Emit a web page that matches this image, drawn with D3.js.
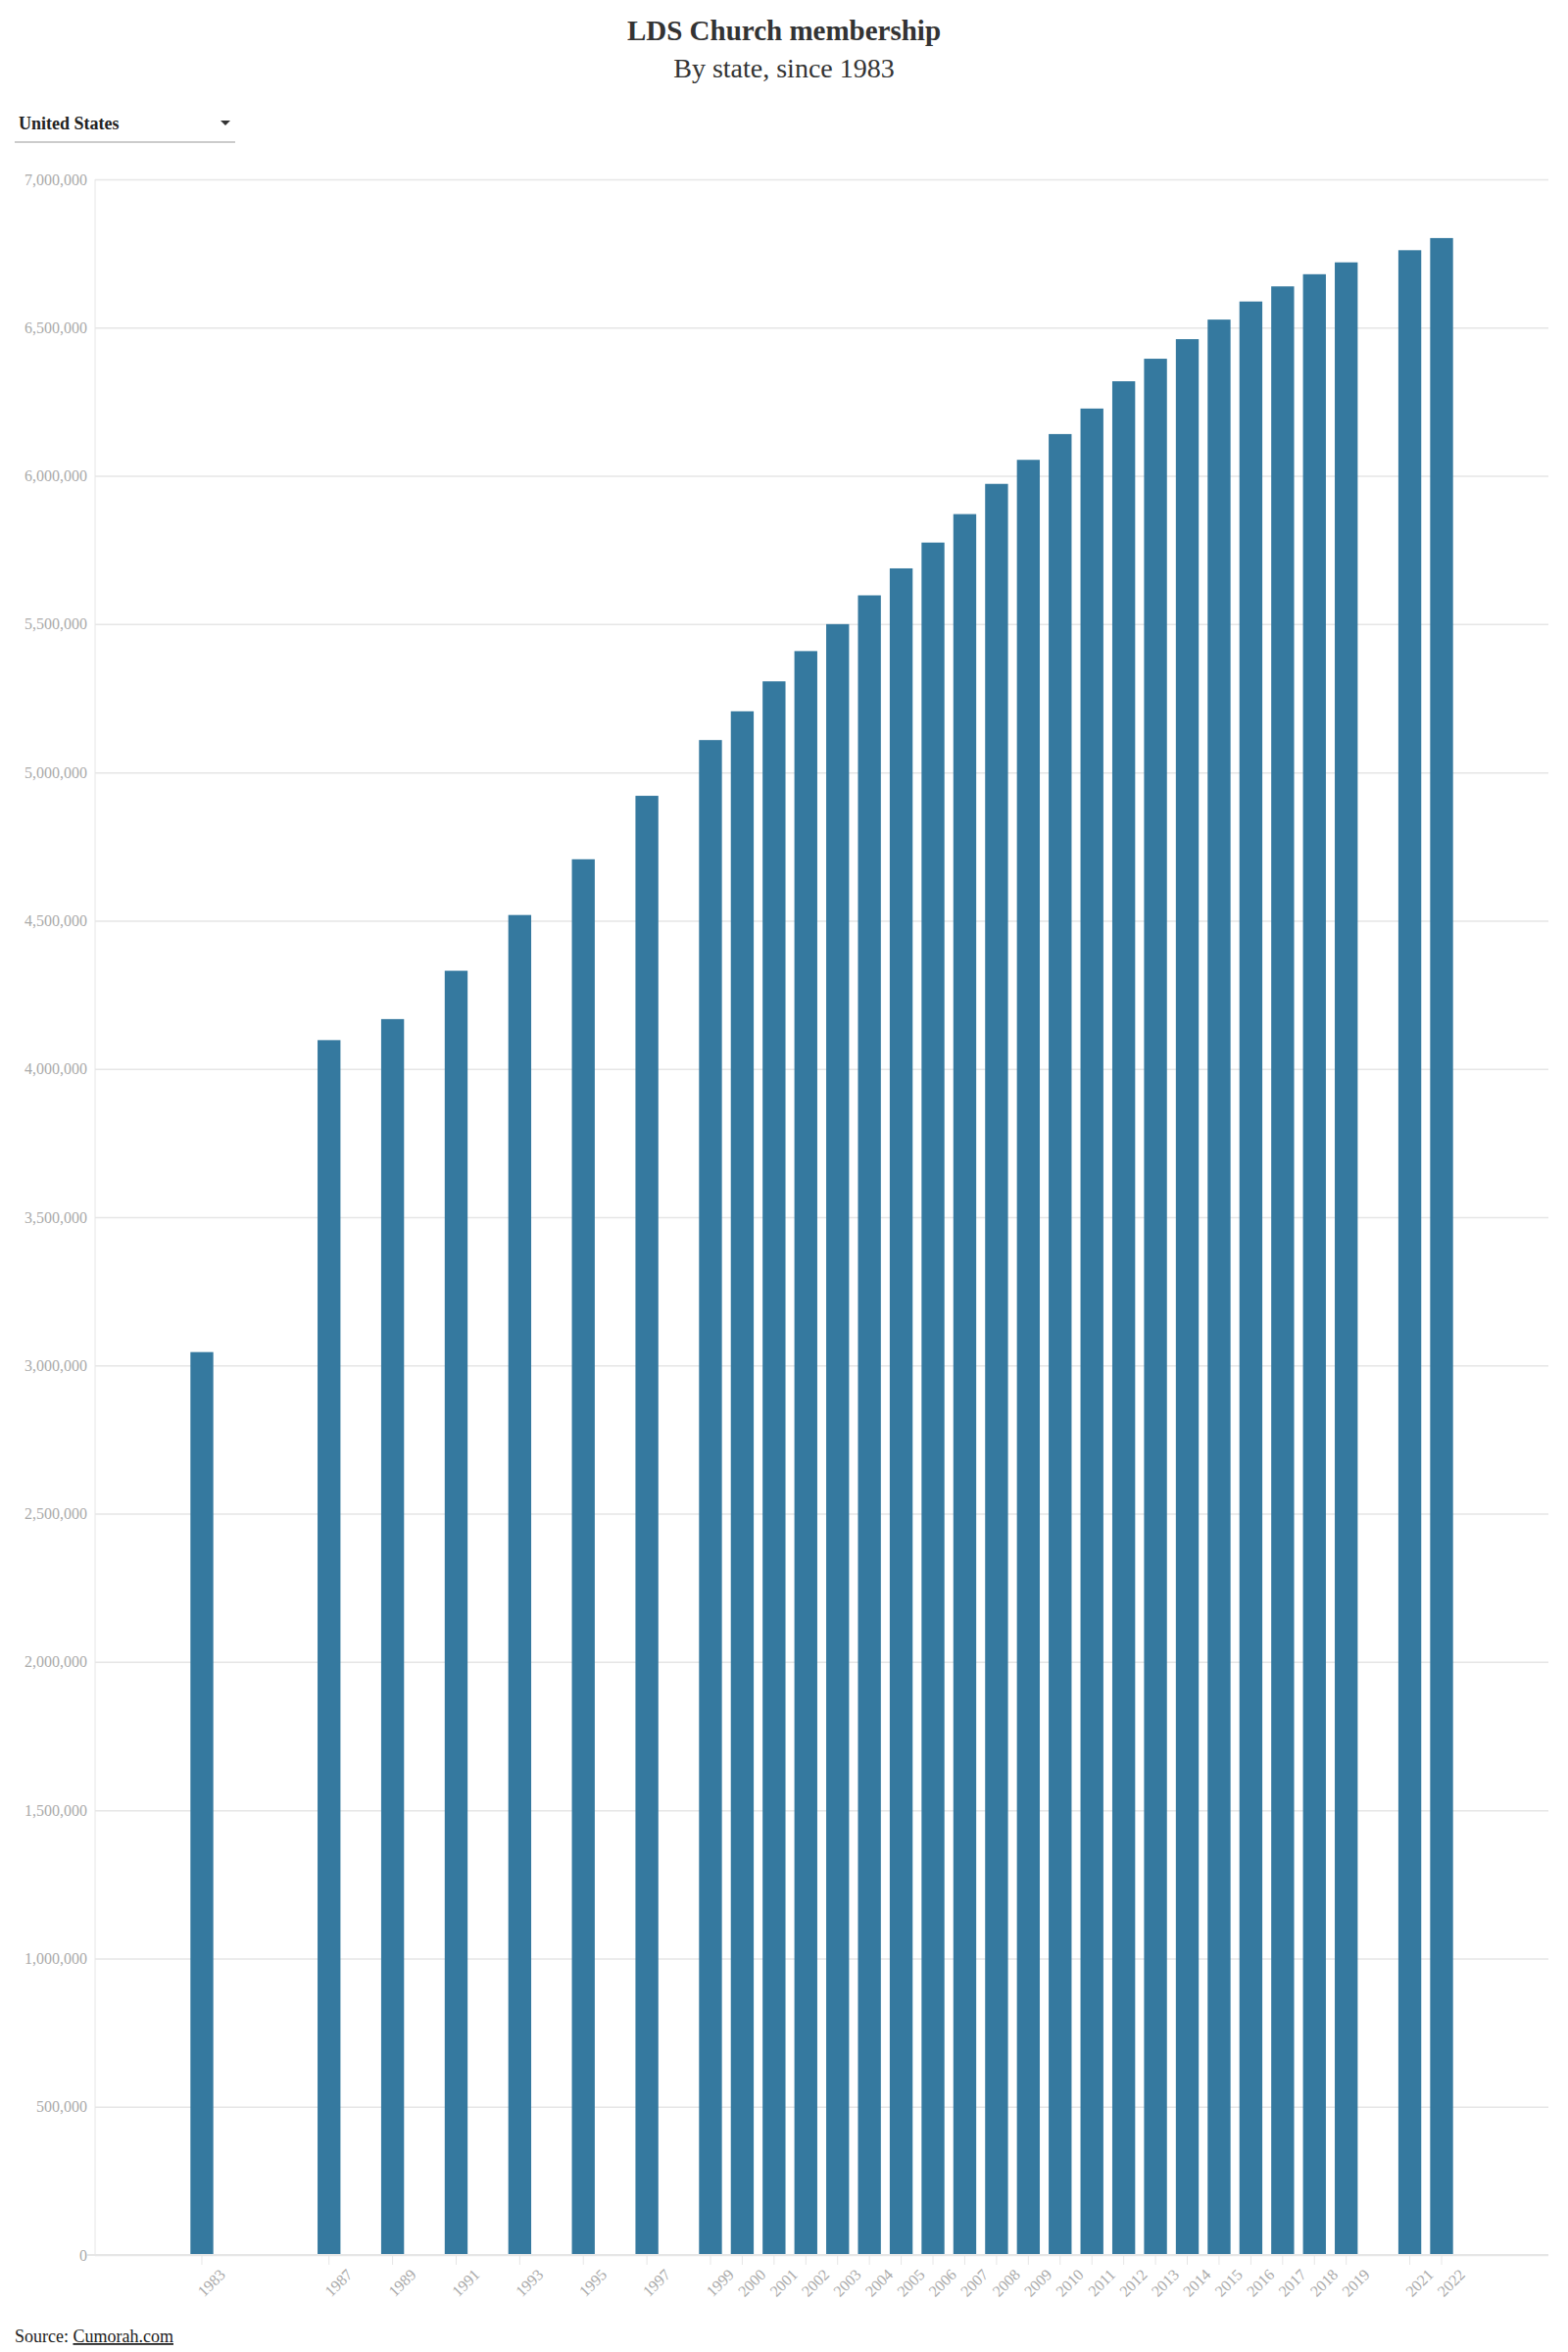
<!DOCTYPE html>
<html><head><meta charset="utf-8">
<script src="https://cdn.jsdelivr.net/npm/d3@7"></script>
<style>body{margin:0;background:#fff;font-family:"Liberation Serif","Times New Roman",serif;}</style>
</head><body>
<svg id="c" width="1600" height="2400"></svg>
<script>
const years = [1983,1987,1989,1991,1993,1995,1997,1999,2000,2001,2002,2003,2004,2005,2006,2007,2008,2009,2010,2011,2012,2013,2014,2015,2016,2017,2018,2019,2021,2022];
const members = [3045000,4097000,4168000,4331000,4519000,4707000,4921000,5109000,5206000,5307000,5409000,5500000,5597000,5688000,5775000,5871000,5973000,6054000,6141000,6227000,6319000,6395000,6461000,6527000,6588000,6639000,6680000,6720000,6761000,6802000];
const yTicks = d3.range(0, 7000001, 500000);
const allYears = d3.range(1980, 2026);

const svg = d3.select("#c");
const m = {l:97, r:1580, t:183, b:2301};
const x = d3.scaleBand().domain(allYears).range([m.l, m.r]).paddingInner(0.28);
const y = d3.scaleLinear().domain([0, 7000000]).range([m.b, m.t]);

svg.append("text").attr("x",800).attr("y",41).attr("text-anchor","middle")
  .attr("font-size",29).attr("font-weight","bold").attr("fill","#333").text("LDS Church membership");
svg.append("text").attr("x",800).attr("y",79).attr("text-anchor","middle")
  .attr("font-size",28).attr("fill","#333").text("By state, since 1983");

svg.append("text").attr("x",19).attr("y",132).attr("font-size",18).attr("font-weight","bold").attr("fill","#222").text("United States");
svg.append("path").attr("d","M225,123 l10,0 l-5,5 z").attr("fill","#333");
svg.append("line").attr("x1",15).attr("x2",240).attr("y1",145).attr("y2",145).attr("stroke","#ccc").attr("stroke-width",2);

const gy = svg.append("g").attr("transform",`translate(${m.l},0)`)
  .call(d3.axisLeft(y).tickValues(yTicks).tickFormat(d3.format(",")).tickSize(-(m.r-m.l)).tickPadding(8));
gy.select(".domain").remove();
gy.selectAll(".tick line").attr("stroke","#e6e6e6").attr("stroke-width",1.5);
gy.selectAll(".tick text").attr("fill","#aaa").attr("font-size",16).attr("font-family","Liberation Serif, serif");
svg.append("line").attr("x1",m.l).attr("x2",m.l).attr("y1",m.t).attr("y2",m.b).attr("stroke","#e6e6e6");

svg.append("g").selectAll("rect").data(years).join("rect")
  .attr("x",(d)=>x(d)).attr("width",x.bandwidth())
  .attr("y",(d,i)=>y(members[i])).attr("height",(d,i)=>y(0)-y(members[i]))
  .attr("fill","#35799f");

svg.append("line").attr("x1",m.l-8).attr("x2",m.r).attr("y1",m.b).attr("y2",m.b).attr("stroke","#e6e6e6").attr("stroke-width",2);

const gx = svg.append("g").attr("transform",`translate(0,${m.b})`)
  .call(d3.axisBottom(x).tickValues(years).tickSize(10).tickPadding(6));
gx.select(".domain").remove();
gx.selectAll(".tick line").attr("stroke","#e6e6e6");
gx.selectAll(".tick text").attr("fill","#aaa").attr("font-size",16).attr("font-family","Liberation Serif, serif")
  .attr("text-anchor","end").attr("transform","translate(8,4) rotate(-45)").attr("dy","0.5em");

const src = svg.append("text").attr("x",15).attr("y",2390).attr("font-size",18).attr("fill","#222");
src.append("tspan").text("Source: ");
src.append("tspan").attr("text-decoration","underline").text("Cumorah.com");
</script>
</body></html>
